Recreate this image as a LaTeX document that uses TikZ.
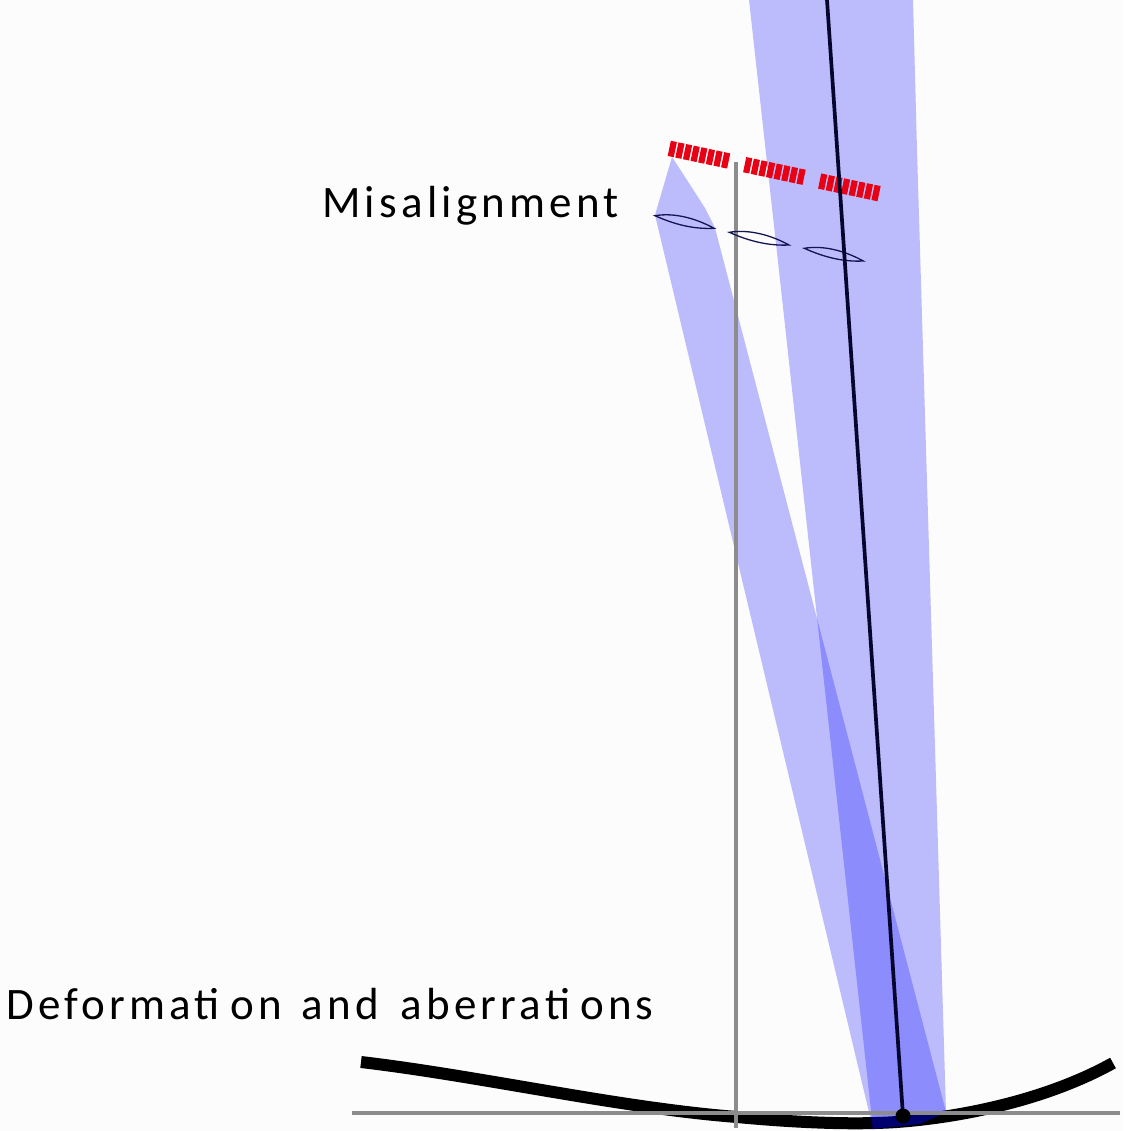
\documentclass[tikz,border=0pt]{standalone}
\usepackage{fontspec}
\setmainfont[LetterSpace=9.4]{Carlito}
\tikzset{
  beam/.style={fill={rgb,255:red,0;green,0;blue,255},fill opacity=0.25,draw=none},
  axisline/.style={draw={rgb,255:red,140;green,140;blue,140},line width=3.8pt},
  lens/.style={draw={rgb,255:red,20;green,20;blue,80},line width=1.3pt},
  pixel/.style={fill={rgb,255:red,232;green,0;blue,20},draw=none,minimum width=6.2pt,minimum height=15.5pt,inner sep=0pt,rotate=-11.8},
  label/.style={anchor=base west,inner sep=0pt,font=\fontsize{45}{54}\selectfont}
}
\newcommand{\pixelrow}[2]{\foreach \i in {0,...,7}{\node[pixel] at ({#1+7.62*\i},{#2+1.62*\i}) {};}}
\newcommand{\lensat}[4]{\draw[lens] (#1,#2) .. controls ({#1+18},{#2-3}) and ({#3-20},{#4-11}) .. (#3,#4) .. controls ({#3-20},{#4+1}) and ({#1+20},{#2+9}) .. cycle;}
\begin{document}
\begin{tikzpicture}[x=1pt,y=-1pt]
\useasboundingbox (0,0) rectangle (1123,1131);
\fill[white!99!black] (0,0) rectangle (1123,1131);
% mirror
\draw[line width=12pt,line join=round] (361,1062) .. controls (480,1076) and (620,1108) .. (737,1117) .. controls (780,1121) and (850,1126) .. (903,1121.5) .. controls (970,1115.8) and (1050,1098) .. (1113,1063);
% beams
\path[beam] (749,0) -- (913,0) -- (917,150) -- (946,1112) -- (920,1124) -- (873,1129) -- (780,280) -- cycle;
\path[beam] (672,157) -- (687,180) -- (705,208) -- (715,228) -- (946,1112) -- (920,1124) -- (873,1129) -- (655,215) -- cycle;
% axes
\draw[axisline] (736,162) -- (736,1128);
\draw[axisline] (352,1113) -- (1120,1113);
% lenses
\lensat{655}{215.7}{714}{228.3}
\lensat{729.3}{232.3}{789}{245}
\lensat{804.3}{248.3}{863.3}{261}
% sensor
\pixelrow{672.3}{149}
\pixelrow{747.7}{165.3}
\pixelrow{822.7}{181.7}
% chief ray
\draw[line width=3.7pt,draw={rgb,255:red,5;green,5;blue,45}] (827,0) -- (903,1116);
\fill[black] (903,1116) circle (7.5);
% labels
\node[label] (mis) at (322,218) {Misalignment};
\node[label] (def) at (6,1019) {Deformati\kern11pt on\hspace{5pt} and\hspace{7pt} aberrati\kern10pt ons};
\end{tikzpicture}
\end{document}
